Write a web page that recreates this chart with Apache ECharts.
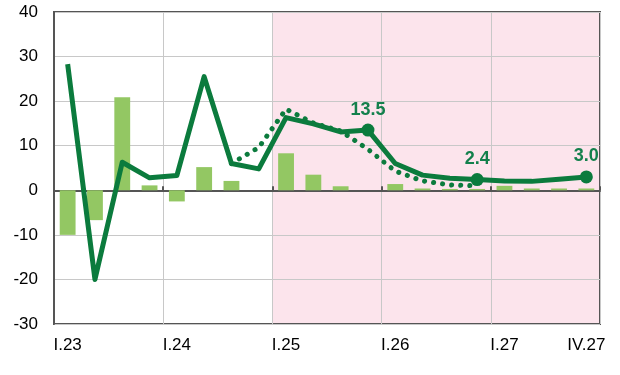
<!DOCTYPE html>
<html>
<head>
<meta charset="utf-8">
<script src="https://cdn.jsdelivr.net/npm/echarts@6/dist/echarts.min.js"></script>
<style>html,body{margin:0;padding:0;background:#fff}#c{width:620px;height:375px}</style>
</head>
<body>
<div id="c"></div>
<script>
var categories = ['I.23','II.23','III.23','IV.23','I.24','II.24','III.24','IV.24','I.25','II.25','III.25','IV.25','I.26','II.26','III.26','IV.26','I.27','II.27','III.27','IV.27'];
var shownLabels = ['I.23','I.24','I.25','I.26','I.27','IV.27'];
var barValues = [-10.0, -6.7, 20.9, 1.1, -2.5, 5.2, 2.1, 0, 8.3, 3.5, 0.9, 0, 1.4, 0.4, 0.3, 0.3, 1.0, 0.4, 0.4, 0.4];
var lineValues = [28.3, -20.0, 6.3, 2.8, 3.3, 25.5, 6.0, 4.8, 16.3, 14.9, 13.1, 13.5, 6.0, 3.4, 2.7, 2.4, 2.1, 2.0, 2.5, 3.0];
var dottedValues = [null, null, null, null, null, null, 6.0, 9.6, 18.2, 15.1, 13.3, 9.2, 4.3, 2.1, 1.2, 1.0, null, null, null, null];
var markedPoints = ['IV.25', 'IV.26', 'IV.27'];
var yTicks = {min: -30, max: 40, interval: 10};
var forecastStart = 'I.25';
var forecastEnd = 'IV.27';

var DARK = '#0b7b3d';
var FONT = 'Liberation Sans, Arial, sans-serif';

var lineData = lineValues.map(function (v, i) {
  if (markedPoints.indexOf(categories[i]) >= 0) {
    return {
      value: v, symbol: 'circle', symbolSize: 13,
      label: {show: true, position: 'top', distance: 5, formatter: function (p) { return p.value.toFixed(1); },
        fontFamily: FONT, fontSize: 18, fontWeight: 'bold', color: '#13804c'}
    };
  }
  return {value: v};
});
var dottedData = dottedValues.map(function (v) { return v == null ? '-' : v; });

var chart = echarts.init(document.getElementById('c'), null, {renderer: 'canvas'});
chart.setOption({
  animation: false,
  grid: {left: 54, right: 20, top: 12, bottom: 51, show: true, borderColor: '#555', borderWidth: 2, containLabel: false},
  xAxis: [{
    type: 'category', data: categories, position: 'bottom', boundaryGap: true,
    axisLine: {show: true, onZero: true, lineStyle: {color: '#555', width: 2}},
    axisTick: {show: true, inside: true, length: 4, interval: function (i) { return i % 4 === 0; }, lineStyle: {color: '#555', width: 2}},
    axisLabel: {show: false},
    splitLine: {show: true, interval: function (i) { return i % 4 === 0; }, lineStyle: {color: '#c8c8c8', width: 1}}
  }, {
    type: 'category', data: categories, position: 'bottom', boundaryGap: true,
    axisLine: {show: false, onZero: false},
    axisTick: {show: false},
    splitLine: {show: false},
    axisLabel: {show: true, margin: 13, fontFamily: FONT, fontSize: 17, color: '#000',
      interval: function (i, v) { return shownLabels.indexOf(v) >= 0; }}
  }],
  yAxis: {
    type: 'value', min: yTicks.min, max: yTicks.max, interval: yTicks.interval,
    axisLine: {show: true, lineStyle: {color: '#555', width: 2}},
    axisTick: {show: false},
    axisLabel: {margin: 16, fontFamily: FONT, fontSize: 17, color: '#000'},
    splitLine: {show: true, lineStyle: {color: '#c8c8c8', width: 1}}
  },
  series: [{
    type: 'bar', data: barValues, xAxisIndex: 0, barWidth: '58%',
    itemStyle: {color: '#93c763'},
    markArea: {
      silent: true, z: -1,
      itemStyle: {color: '#fce4ec'},
      data: [[{xAxis: forecastStart}, {xAxis: forecastEnd}]]
    }
  }, {
    type: 'line', data: dottedData, xAxisIndex: 0, symbol: 'none',
    lineStyle: {color: DARK, width: 5, type: [0.1, 9], cap: 'round'}
  }, {
    type: 'line', data: lineData, xAxisIndex: 0, symbol: 'none', showSymbol: true,
    itemStyle: {color: DARK},
    lineStyle: {color: DARK, width: 5, join: 'round'}
  }]
});
</script>
</body>
</html>
